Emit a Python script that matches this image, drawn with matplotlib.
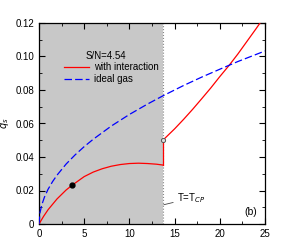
import matplotlib.pyplot as plt
from matplotlib.ticker import MultipleLocator, FixedFormatter, FixedLocator

plt.rcParams["font.family"] = ["Liberation Sans", "DejaVu Sans"]
plt.rcParams["font.size"] = 7

# values
T_CP = 13.7

t_low = [0, 0.5, 1, 2, 3, 3.7, 5, 6, 7, 8, 9, 10, 11, 12, 13, 13.7]
q_low = [0, 0.0045, 0.0085, 0.0150, 0.0203, 0.0233, 0.0283, 0.0310, 0.0330,
         0.0345, 0.0355, 0.0361, 0.0363, 0.0361, 0.0357, 0.0352]

t_high = [13.7, 15, 16, 17, 18, 19, 20, 21, 22, 23, 24, 24.45]
q_high = [0.0500, 0.0568, 0.0625, 0.0685, 0.0748, 0.0812, 0.0880, 0.0945,
          0.1015, 0.1090, 0.1165, 0.1200]

t_ideal = [0, 0.1, 0.3, 0.6, 1, 1.5, 2, 3, 4, 5, 6, 8, 10, 12, 13.7, 16, 18, 20, 22, 25]
q_ideal = [0, 0.0065, 0.0113, 0.0160, 0.0207, 0.0253, 0.0292, 0.0358, 0.0413,
           0.0462, 0.0506, 0.0585, 0.0654, 0.0716, 0.0765, 0.0827, 0.0877,
           0.0924, 0.0970, 0.1033]

dot_t, dot_q = 3.7, 0.0233
jump_t, jump_q = 13.7, 0.0500


def main():
    fig = plt.figure(figsize=(2.87, 2.47), dpi=100)
    ax = fig.add_axes([39 / 287, 23 / 247, 226 / 287, 201 / 247])

    ax.axvspan(0, T_CP, color="#c8c8c8", lw=0, zorder=0)
    ax.axvline(T_CP, color="#888888", ls=":", lw=0.8, zorder=1)

    ax.plot(t_low, q_low, color="red", lw=0.9, label="with interaction", zorder=3)
    ax.plot(t_high, q_high, color="red", lw=0.9, zorder=3)
    ax.plot([T_CP, T_CP], [q_low[-1], q_high[0]], color="red", lw=0.9, zorder=3)
    ax.plot(t_ideal, q_ideal, color="blue", ls=(0, (6, 2.5)), lw=0.9,
            label="ideal gas", zorder=3)

    ax.plot(dot_t, dot_q, "o", color="black", ms=3.5, zorder=4)
    ax.plot(jump_t, jump_q, "o", mfc="#dddddd", mec="#555555", ms=3, mew=0.7, zorder=4)

    ax.set_xlim(0, 25)
    ax.set_ylim(0, 0.12)
    ax.xaxis.set_major_locator(MultipleLocator(5))
    ax.xaxis.set_minor_locator(MultipleLocator(2.5))
    ax.yaxis.set_major_locator(FixedLocator([0, 0.02, 0.04, 0.06, 0.08, 0.10, 0.12]))
    ax.yaxis.set_major_formatter(FixedFormatter(["0", "0.02", "0.04", "0.06", "0.08", "0.10", "0.12"]))
    ax.yaxis.set_minor_locator(MultipleLocator(0.01))
    ax.tick_params(which="both", direction="in", top=True, right=True, labelsize=7)
    ax.tick_params(which="major", length=4, width=0.8)
    ax.tick_params(which="minor", length=2.5, width=0.6)
    for s in ax.spines.values():
        s.set_linewidth(0.9)

    ax.set_ylabel("$q_s$", fontsize=7)
    ax.yaxis.set_label_coords(-0.122, 0.5)

    ax.text(5.1, 0.1, "S/N=4.54", fontsize=7, va="center")
    ax.legend(loc="upper left", bbox_to_anchor=(0.08, 0.84), frameon=False,
              fontsize=7, handlelength=2.6, handletextpad=0.5, labelspacing=0.2,
              borderpad=0.2)

    ax.annotate("T=T$_{CP}$", xy=(T_CP + 0.1, 0.0115), xytext=(15.3, 0.0155),
                fontsize=7, va="center",
                arrowprops=dict(arrowstyle="-", color="#444444", lw=0.6,
                                shrinkA=1, shrinkB=0))
    ax.text(23.4, 0.007, "(b)", fontsize=7.5, ha="center", va="center")

    fig.savefig("out.png", dpi=100)


if __name__ == "__main__":
    main()
